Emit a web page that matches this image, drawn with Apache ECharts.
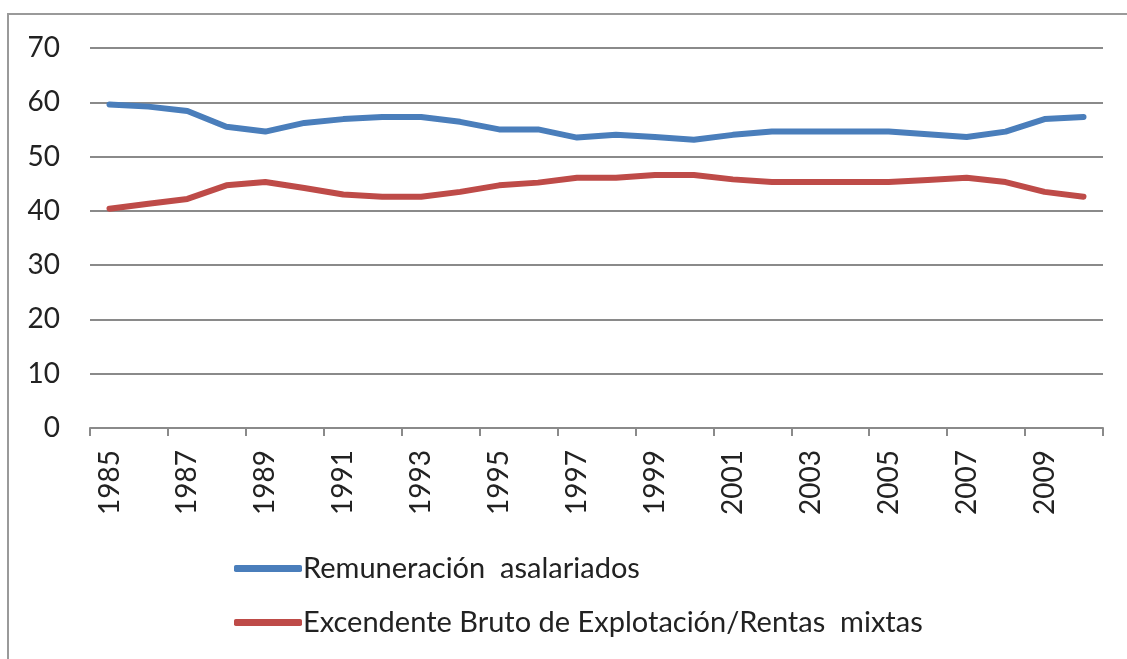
<!DOCTYPE html>
<html>
<head>
<meta charset="utf-8">
<script src="https://cdn.jsdelivr.net/npm/echarts@6/dist/echarts.min.js"></script>
<style>
  html, body { margin: 0; padding: 0; background: #fff; }
  #chart { width: 1127px; height: 659px; }
</style>
</head>
<body>
<div id="chart"></div>
<script>
// años 1985-2010
var years = ['1985','1986','1987','1988','1989','1990','1991','1992','1993','1994','1995','1996','1997',
             '1998','1999','2000','2001','2002','2003','2004','2005','2006','2007','2008','2009','2010'];
var remuneracion = [59.6, 59.2, 58.4, 55.5, 54.6, 56.2, 56.9, 57.3, 57.3, 56.4, 55.0, 55.0, 53.5,
                    54.0, 53.6, 53.1, 54.0, 54.6, 54.6, 54.6, 54.6, 54.1, 53.6, 54.6, 56.9, 57.3];
var excedente = [40.4, 41.3, 42.2, 44.7, 45.3, 44.2, 43.0, 42.6, 42.6, 43.5, 44.7, 45.2, 46.1,
                 46.1, 46.6, 46.6, 45.8, 45.3, 45.3, 45.3, 45.3, 45.7, 46.1, 45.3, 43.5, 42.6];
var seriesNames = ['Remuneración  asalariados', 'Excendente Bruto de Explotación/Rentas  mixtas'];

var font = 'Lato, "Open Sans", sans-serif';
var chart = echarts.init(document.getElementById('chart'));

chart.setOption({
    animation: false,
    backgroundColor: '#fff',
    graphic: [{
        type: 'rect',
        shape: { x: 8, y: 14, width: 1300, height: 800 },
        style: { fill: 'none', stroke: '#9a9a9a', lineWidth: 2 },
        silent: true
    }],
    grid: { left: 90, right: 24, top: 48, bottom: 231 },
    legend: {
        orient: 'vertical',
        left: 229,
        top: 549,
        itemWidth: 68,
        itemHeight: 7,
        itemGap: 25,
        icon: 'roundRect',
        textStyle: { fontFamily: font, fontSize: 29, color: '#222', padding: [2, 0, 0, -4] },
        data: seriesNames
    },
    xAxis: {
        type: 'category',
        boundaryGap: true,
        data: years,
        axisLine: { lineStyle: { color: '#8a8a8a', width: 2 } },
        axisTick: { show: true, length: 8, lineStyle: { color: '#8a8a8a', width: 2 } },
        axisLabel: {
            interval: 1,
            rotate: 90,
            margin: 22,
            fontFamily: font,
            fontSize: 28,
            color: '#222'
        }
    },
    yAxis: {
        type: 'value',
        min: 0,
        max: 70,
        interval: 10,
        axisLine: { show: false },
        axisTick: { show: false },
        splitLine: { lineStyle: { color: '#8a8a8a', width: 2 } },
        axisLabel: { margin: 30, fontFamily: font, fontSize: 28, color: '#222' }
    },
    series: [{
        name: seriesNames[0],
        type: 'line',
        data: remuneracion,
        showSymbol: false,
        symbol: 'none',
        color: '#4a7ebb',
        lineStyle: { width: 6, cap: 'round', join: 'round' }
    }, {
        name: seriesNames[1],
        type: 'line',
        data: excedente,
        showSymbol: false,
        symbol: 'none',
        color: '#be4b48',
        lineStyle: { width: 6, cap: 'round', join: 'round' }
    }]
});
</script>
</body>
</html>
